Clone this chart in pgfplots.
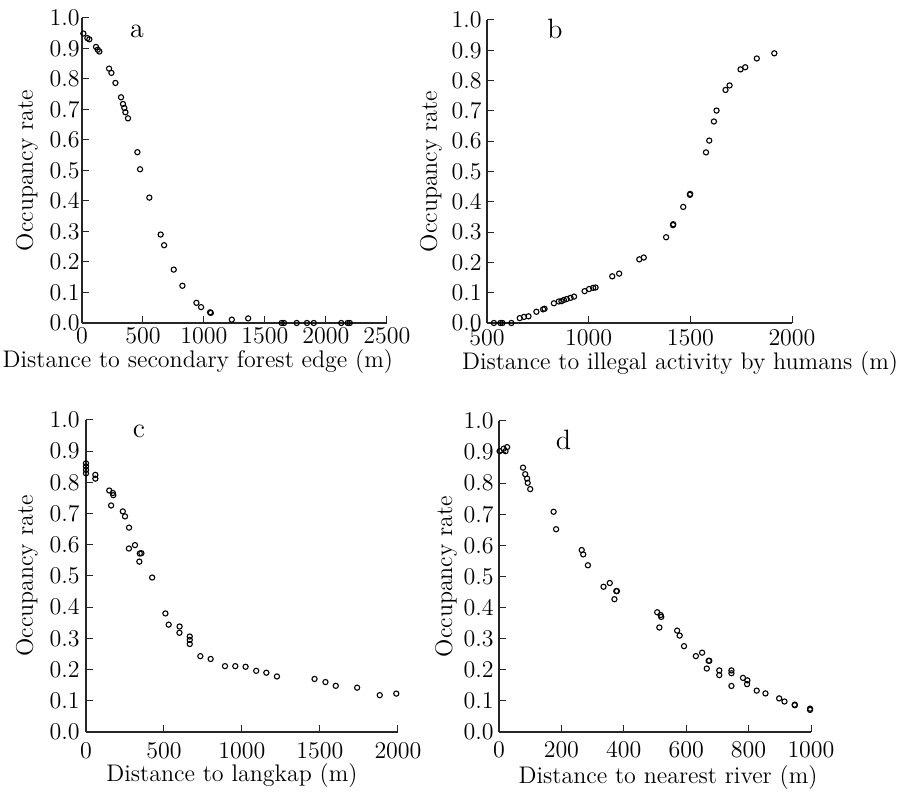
\documentclass[border=0pt]{standalone}
\usepackage{pgfplots}
\pgfplotsset{compat=1.18}
\begin{document}
\begin{tikzpicture}
\path[use as bounding box] (0,0) rectangle (456pt,397.5pt);
\pgfplotsset{
  panel/.style={
    scale only axis, clip=false,
    axis x line*=bottom, axis y line*=left,
    axis line style={black!85, line width=0.6pt, -},
    tick align=inside, major tick length=3.5pt,
    tick style={black!85, line width=0.5pt},
    ymin=0, ymax=1, ytick={0,0.1,0.2,0.3,0.4,0.5,0.6,0.7,0.8,0.9,1},
    yticklabel style={/pgf/number format/fixed, /pgf/number format/precision=1, /pgf/number format/fixed zerofill, font=\fontsize{13}{15}\selectfont},
    xticklabel style={font=\fontsize{13}{15}\selectfont},
    scaled ticks=false,
    /pgf/number format/1000 sep={},
  },
  pts/.style={only marks, mark=o, mark size=1.3pt, black, mark options={line width=0.55pt}},
}
\newcommand{\lab}{\fontsize{12}{14}\selectfont}
\newcommand{\pl}{\fontsize{14}{16}\selectfont}
% ---------------- a
\begin{axis}[panel, at={(41pt,236pt)}, anchor=south west, width=152.5pt, height=152.5pt,
  xmin=0, xmax=2500, xtick={0,500,1000,1500,2000,2500},
  yticklabel style={inner xsep=1pt}, xticklabel style={inner ysep=2.5pt}]
\addplot[pts] coordinates {(11,0.949) (44,0.934) (60,0.930) (115,0.905) (129,0.896) (142,0.890) (222,0.834) (241,0.820) (274,0.787) (320,0.740) (336,0.718) (347,0.705) (356,0.691) (377,0.671) (454,0.560) (476,0.504) (552,0.411) (645,0.290) (673,0.255) (752,0.175) (823,0.122) (938,0.066) (976,0.052) (1050,0.035) (1056,0.033) (1228,0.011) (1362,0.015) (1637,0) (1656,0) (1760,0) (1844,0) (1900,0) (2125,0) (2178,0) (2195,0)};
\node[font=\pl] at (axis cs:451,0.957) {a};
\node[font=\lab, anchor=base] at ([yshift=-22.5pt]axis description cs:0.38,0) {Distance to secondary forest edge (m)};
\node[font=\lab, anchor=base, rotate=90] at ([xshift=-24.5pt]axis description cs:0,0.5) {Occupancy rate};
\end{axis}
% ---------------- b
\begin{axis}[panel, at={(243.5pt,236pt)}, anchor=south west, width=152.5pt, height=151.5pt,
  xmin=500, xmax=2000, xtick={500,1000,1500,2000},
  yticklabel style={inner xsep=2.5pt}, xticklabel style={inner ysep=3.5pt}]
\addplot[pts] coordinates {(534,0) (566,0) (576,0) (620,0) (661,0.016) (682,0.020) (704,0.022) (743,0.037) (776,0.045) (783,0.047) (829,0.065) (853,0.071) (866,0.072) (878,0.076) (892,0.079) (911,0.083) (928,0.087) (980,0.105) (1002,0.112) (1022,0.116) (1034,0.117) (1116,0.154) (1150,0.163) (1249,0.210) (1271,0.216) (1381,0.283) (1415,0.323) (1416,0.326) (1465,0.383) (1498,0.423) (1499,0.426) (1577,0.563) (1593,0.602) (1616,0.665) (1629,0.701) (1673,0.769) (1693,0.784) (1747,0.837) (1770,0.844) (1827,0.873) (1913,0.890)};
\node[font=\pl] at (axis cs:834,0.970) {b};
\node[font=\lab, anchor=base] at ([yshift=-23.5pt]axis description cs:0.633,0) {Distance to illegal activity by humans (m)};
\node[font=\lab, anchor=base, rotate=90] at ([xshift=-25pt]axis description cs:0,0.5) {Occupancy rate};
\end{axis}
% ---------------- c
\begin{axis}[panel, at={(43pt,31.5pt)}, anchor=south west, width=156pt, height=156pt,
  xmin=0, xmax=2000, xtick={0,500,1000,1500,2000},
  yticklabel style={inner xsep=3pt}, xticklabel style={inner ysep=5.5pt}]
\addplot[pts] coordinates {(0,0.861) (0,0.851) (0,0.840) (0,0.829) (60,0.824) (60,0.812) (149,0.774) (172,0.766) (175,0.759) (161,0.726) (236,0.707) (250,0.691) (276,0.655) (275,0.588) (314,0.599) (345,0.572) (355,0.573) (342,0.546) (424,0.495) (509,0.380) (530,0.344) (600,0.338) (599,0.318) (665,0.306) (665,0.295) (665,0.282) (733,0.243) (799,0.234) (891,0.211) (957,0.211) (1023,0.209) (1091,0.196) (1156,0.190) (1224,0.178) (1465,0.170) (1535,0.160) (1601,0.148) (1738,0.142) (1883,0.118) (1989,0.123)};
\node[font=\pl] at (axis cs:340,0.965) {c};
\node[font=\lab, anchor=base] at ([yshift=-25pt]axis description cs:0.468,0) {Distance to langkap (m)};
\node[font=\lab, anchor=base, rotate=90] at ([xshift=-26.5pt]axis description cs:0,0.5) {Occupancy rate};
\end{axis}
% ---------------- d
\begin{axis}[panel, at={(249.5pt,31.5pt)}, anchor=south west, width=156pt, height=155.5pt,
  xmin=0, xmax=1000, xtick={0,200,400,600,800,1000},
  yticklabel style={inner xsep=2.5pt}, xticklabel style={inner ysep=5pt}]
\addplot[pts] coordinates {(2,0.903) (15,0.911) (21,0.903) (26,0.916) (77,0.850) (84,0.829) (90,0.815) (92,0.801) (100,0.781) (175,0.708) (183,0.652) (265,0.585) (270,0.571) (285,0.536) (335,0.467) (355,0.479) (370,0.427) (376,0.453) (378,0.453) (507,0.385) (518,0.376) (520,0.370) (514,0.336) (571,0.326) (579,0.310) (593,0.276) (631,0.244) (651,0.255) (672,0.229) (674,0.229) (666,0.204) (706,0.198) (706,0.183) (745,0.198) (745,0.189) (745,0.148) (782,0.174) (796,0.166) (795,0.154) (826,0.133) (854,0.124) (898,0.108) (915,0.098) (948,0.088) (948,0.086) (997,0.075) (997,0.071)};
\node[font=\pl] at (axis cs:207,0.939) {d};
\node[font=\lab, anchor=base] at ([yshift=-26pt]axis description cs:0.542,0) {Distance to nearest river (m)};
\node[font=\lab, anchor=base, rotate=90] at ([xshift=-23.5pt]axis description cs:0,0.5) {Occupancy rate};
\end{axis}
\end{tikzpicture}
\end{document}
